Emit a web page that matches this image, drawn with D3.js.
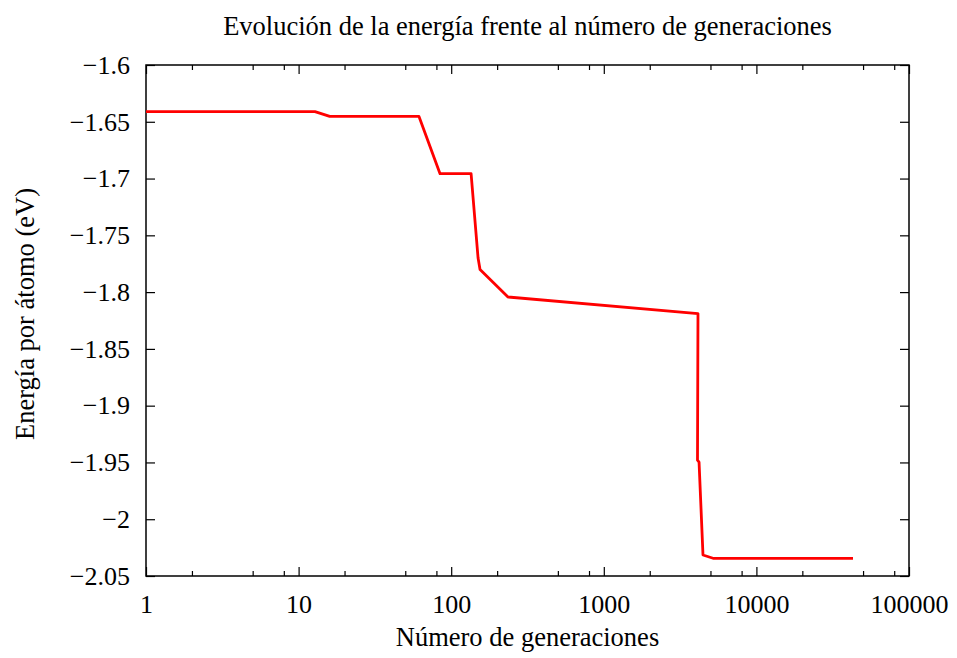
<!DOCTYPE html>
<html>
<head>
<meta charset="utf-8">
<script src="https://cdn.jsdelivr.net/npm/d3@7"></script>
<style>
  html, body { margin: 0; padding: 0; background: #fff; }
  svg text { font-family: "Liberation Serif", "Times New Roman", "DejaVu Serif", serif; fill: #000; }
</style>
</head>
<body>
<svg id="chart" width="957" height="658"></svg>
<script>
// Generations (log scale) and best energy per atom (eV)
const generations = [1, 12.8, 16, 61.5, 84.5, 135, 150, 154.5, 235.6, 4142, 4111, 4209, 4467, 5196, 42950];
const energies = [-1.641, -1.641, -1.6453, -1.6453, -1.6957, -1.6957, -1.770, -1.780, -1.8043, -1.8189, -1.948, -1.9497, -2.0315, -2.0344, -2.0344];

const xMajorTicks = [1, 10, 100, 1000, 10000, 100000];
const xMinorMultipliers = [2, 5, 8];
const yTicks = [-1.6, -1.65, -1.7, -1.75, -1.8, -1.85, -1.9, -1.95, -2, -2.05];

const titleText = "Evolución de la energía frente al número de generaciones";
const xLabel = "Número de generaciones";
const yLabel = "Energía por átomo (eV)";

const svg = d3.select("#chart");
const margin = { left: 146, right: 48, top: 65, bottom: 82 };
const W = 957, H = 658;
const x0 = margin.left, x1 = W - margin.right;
const y0 = margin.top, y1 = H - margin.bottom;
const tickFont = 26, labelFont = 26.5;

const x = d3.scaleLog().domain([1, 100000]).range([x0, x1]);
const y = d3.scaleLinear().domain([-2.05, -1.6]).range([y1, y0]);

const minorTicks = [];
xMajorTicks.slice(0, -1).forEach(t => xMinorMultipliers.forEach(m => minorTicks.push(t * m)));

const fmtY = d => d3.format("")(d).replace("-", "\u2212");

// Bottom axis carries the labels; the other three sides only mirror ticks
const axisB = svg.append("g").attr("transform", `translate(0,${y1})`)
  .call(d3.axisBottom(x).tickValues(xMajorTicks).tickFormat(d3.format("d")).tickSize(-9).tickPadding(37));
svg.append("g").attr("transform", `translate(0,${y0})`)
  .call(d3.axisTop(x).tickValues(xMajorTicks).tickFormat("").tickSize(-9));
svg.append("g").attr("transform", `translate(0,${y1})`)
  .call(d3.axisBottom(x).tickValues(minorTicks).tickFormat("").tickSize(-5));
svg.append("g").attr("transform", `translate(0,${y0})`)
  .call(d3.axisTop(x).tickValues(minorTicks).tickFormat("").tickSize(-5));

svg.append("g").attr("transform", `translate(${x0},0)`)
  .call(d3.axisLeft(y).tickValues(yTicks).tickFormat(fmtY).tickSize(-9).tickPadding(16));
svg.append("g").attr("transform", `translate(${x1},0)`)
  .call(d3.axisRight(y).tickValues(yTicks).tickFormat("").tickSize(-9));

svg.selectAll(".domain").remove();
svg.selectAll(".tick line").attr("stroke", "#000").attr("stroke-width", 1.2);
svg.selectAll(".tick text").attr("font-size", tickFont).attr("font-family", null);
axisB.selectAll(".tick text").attr("dy", "0");

// Frame
svg.append("rect").attr("x", x0).attr("y", y0).attr("width", x1 - x0).attr("height", y1 - y0)
  .attr("fill", "none").attr("stroke", "#000").attr("stroke-width", 1.5);

// Energy curve
const data = generations.map((g, i) => [g, energies[i]]);
svg.append("path").datum(data)
  .attr("fill", "none").attr("stroke", "#ff0000").attr("stroke-width", 2.8)
  .attr("stroke-linejoin", "round")
  .attr("d", d3.line().x(d => x(d[0])).y(d => y(d[1])));

// Titles
svg.append("text").attr("x", 527.5).attr("y", 35).attr("text-anchor", "middle")
  .attr("font-size", labelFont).text(titleText);
svg.append("text").attr("x", 527.5).attr("y", 646).attr("text-anchor", "middle")
  .attr("font-size", labelFont).text(xLabel);
svg.append("text").attr("transform", `translate(34,314) rotate(-90)`)
  .attr("text-anchor", "middle").attr("font-size", labelFont).text(yLabel);
</script>
</body>
</html>
